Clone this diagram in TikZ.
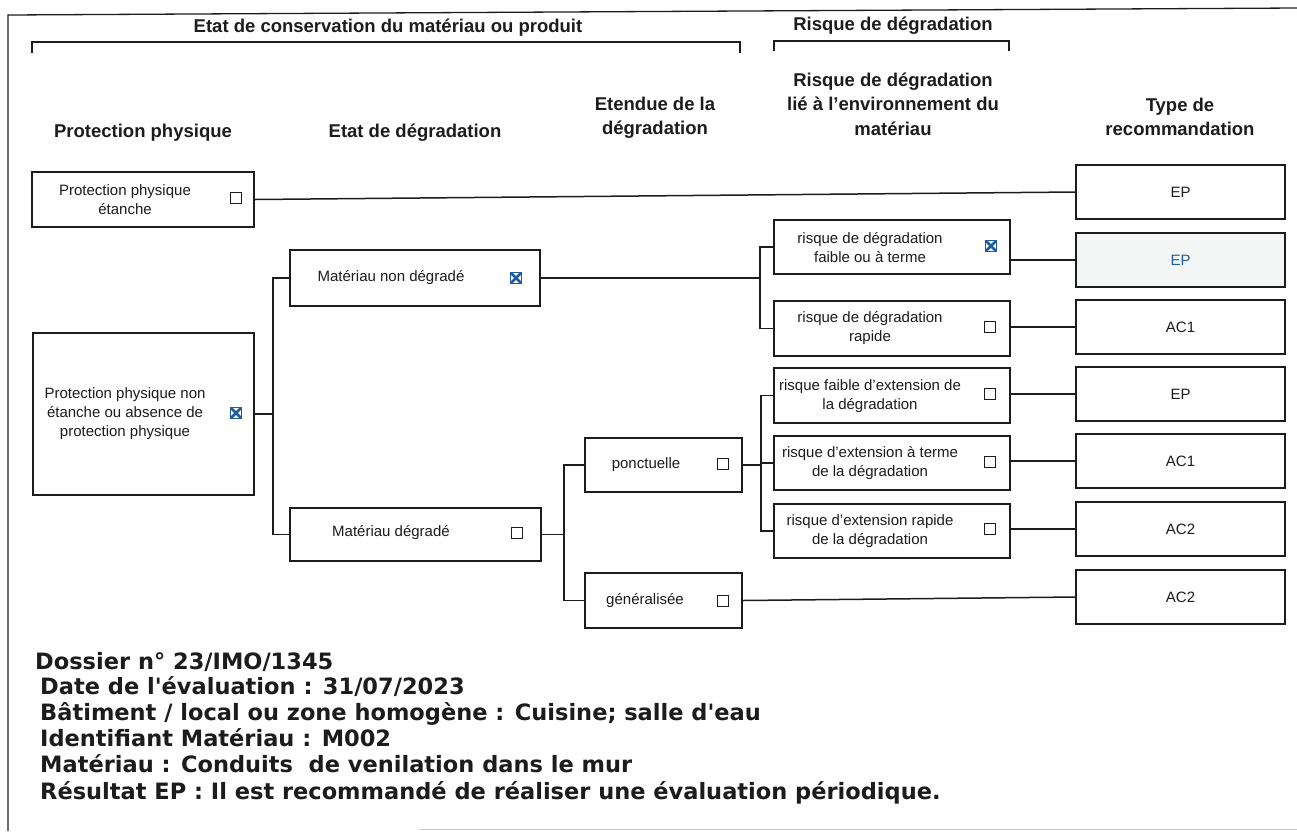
\documentclass[tikz,border=0pt]{standalone}
\usepackage{fontspec}
\setmainfont{Liberation Sans}
\newfontfamily\footfont{DejaVu Sans}
\usepackage{xcolor}
\usetikzlibrary{positioning,calc}
\definecolor{ink}{HTML}{1C1C1C}
\definecolor{tickblue}{HTML}{1F5E9E}
\definecolor{scan}{HTML}{F4F5F5}
\tikzset{
  box/.style={rectangle, draw=ink, line width=1.5pt, fill=white, inner sep=0pt},
  lbl/.style={font=\fontsize{15}{19}\selectfont, text=ink, align=center, inner sep=0pt},
  head/.style={font=\fontsize{18.5}{24.5}\selectfont\bfseries, text=ink, align=center, inner sep=0pt},
  wire/.style={draw=ink, line width=1.5pt},
  chk/.style={rectangle, draw=ink, line width=1pt, minimum size=10.5pt, inner sep=0pt},
  chkon/.style={rectangle, draw=tickblue, line width=1pt, minimum size=11pt, inner sep=0pt,
    path picture={\draw[tickblue, line width=2.6pt]
      (path picture bounding box.south west) -- (path picture bounding box.north east)
      (path picture bounding box.north west) -- (path picture bounding box.south east);}},
  note/.style={font=\footfont\bfseries\fontsize{22.5}{26}\selectfont, text=ink, anchor=base west, inner sep=0pt},
  reco/.style={box, lbl, minimum width=209pt, minimum height=54pt},
  risk/.style={box, minimum width=236pt, minimum height=54pt},
}
\begin{document}
\begin{tikzpicture}[x=1pt,y=-1pt]
\useasboundingbox (0,0) rectangle (1297,831);
\draw[ink, line width=1.3pt] (8,831) -- (8,15) -- (1297,8);
\draw[gray!45, line width=1pt] (420,829) -- (1297,829);

\node[head, font=\fontsize{18.5}{22}\selectfont\bfseries] (b1) at (388,28) {Etat de conservation du matériau ou produit};
\node[head, font=\fontsize{18.5}{22}\selectfont\bfseries] (b2) at (893,26) {Risque de dégradation};
\draw[wire] (32,53) -- (32,42) -- (740,42) -- (740,53);
\draw[wire] (774,51) -- (774,41) -- (1009,41) -- (1009,51);

\node[head] (h1) at (143,133) {Protection physique};
\node[head] (h2) at (415,133) {Etat de dégradation};
\node[head] (h3) at (655,118) {Etendue de la\\dégradation};
\node[head] (h4) at (893,104) {Risque de dégradation\\lié à l'environnement du\\matériau};
\node[head] (h5) at (1180,117) {Type de\\recommandation};

\node[box, minimum width=222pt, minimum height=55pt] (n1) at (143,199.5) {};
\node[lbl] (t1) at (125,200) {Protection physique\\étanche};
\node[chk] (c1) at (236,198) {};
\node[box, minimum width=221pt, minimum height=162pt] (n2) at (143.5,414) {};
\node[lbl] (t2) at (125,414) {Protection physique non\\étanche ou absence de\\protection physique};
\node[chkon] (c2) at (236,413) {};
\node[box, minimum width=250pt, minimum height=56pt] (n3) at (415,278) {};
\node[lbl] (t3) at (391,278) {Matériau non dégradé};
\node[chkon] (c3) at (516,278) {};
\node[box, minimum width=251pt, minimum height=53pt] (n4) at (415.5,534.5) {};
\node[lbl] (t4) at (391,533) {Matériau dégradé};
\node[chk] (c4) at (517,533) {};
\node[box, minimum width=157pt, minimum height=54pt] (n5) at (663.5,465) {};
\node[lbl] (t5) at (646,465) {ponctuelle};
\node[chk] (c5) at (723,464) {};
\node[box, minimum width=157pt, minimum height=55pt] (n6) at (663.5,600.5) {};
\node[lbl] (t6) at (645,601) {généralisée};
\node[chk] (c6) at (723,601) {};

\node[risk] (r1) at (892,247) {};
\node[lbl] (s1) at (870,247.5) {risque de dégradation\\faible ou à terme};
\node[chkon] (k1) at (991,246) {};
\node[risk, minimum height=55pt] (r2) at (892,328.5) {};
\node[lbl] (s2) at (870,328.5) {risque de dégradation\\rapide};
\node[chk] (k2) at (990,327) {};
\node[risk, minimum height=55pt] (r3) at (892,395.5) {};
\node[lbl] (s3) at (870,396.5) {risque faible d'extension de\\la dégradation};
\node[chk] (k3) at (990,394) {};
\node[risk] (r4) at (892,463) {};
\node[lbl] (s4) at (870,463.5) {risque d'extension à terme\\de la dégradation};
\node[chk] (k4) at (990,462) {};
\node[risk] (r5) at (892,531) {};
\node[lbl] (s5) at (870,531.5) {risque d'extension rapide\\de la dégradation};
\node[chk] (k5) at (990,529) {};

\node[reco] (e1) at (1180.5,192) {EP};
\node[reco, fill=scan, text=tickblue] (e2) at (1180.5,260) {EP};
\node[reco] (a1) at (1180.5,327) {AC1};
\node[reco] (e3) at (1180.5,394) {EP};
\node[reco] (a2) at (1180.5,461) {AC1};
\node[reco] (a3) at (1180.5,529) {AC2};
\node[reco] (a4) at (1180.5,597) {AC2};

\draw[wire] (n1.east) -- (e1.west);
\draw[wire] (n2.east) -- ++(18,0) coordinate (j1);
\draw[wire] (n3.west) -| (j1) |- (n4.west);
\draw[wire] (n4.east) -- ++(22,0) coordinate (j2);
\draw[wire] (n5.west) -| (j2) |- (n6.west);
\draw[wire] (n3.east) -- ++(219,0) coordinate (j3);
\draw[wire] (r1.west) -| (j3) |- (r2.west);
\draw[wire] (n5.east) -- ++(18,0) coordinate (j4);
\draw[wire] (r3.west) -| (j4) |- (r5.west);
\draw[wire] (r4.west) -- (r4.west -| j4);
\foreach \r/\e in {r1/e2, r2/a1, r3/e3, r4/a2, r5/a3}
  \draw[wire] (\e.west -| \r.east) -- (\e.west);
\draw[wire] (n6.east) -- (a4.west);

\node[note] (f1) at (35,669) {Dossier n° 23/IMO/1345};
\node[note] (f2) at (40,694) {Date de l'évaluation : 31/07/2023};
\node[note] (f3) at (40,720) {Bâtiment / local ou zone homogène : Cuisine; salle d'eau};
\node[note] (f4) at (40,746) {Identifiant Matériau : M002};
\node[note] (f5) at (40,772) {Matériau : Conduits~ de venilation dans le mur};
\node[note] (f6) at (40,799) {Résultat EP : Il est recommandé de réaliser une évaluation périodique.};
\end{tikzpicture}
\end{document}
